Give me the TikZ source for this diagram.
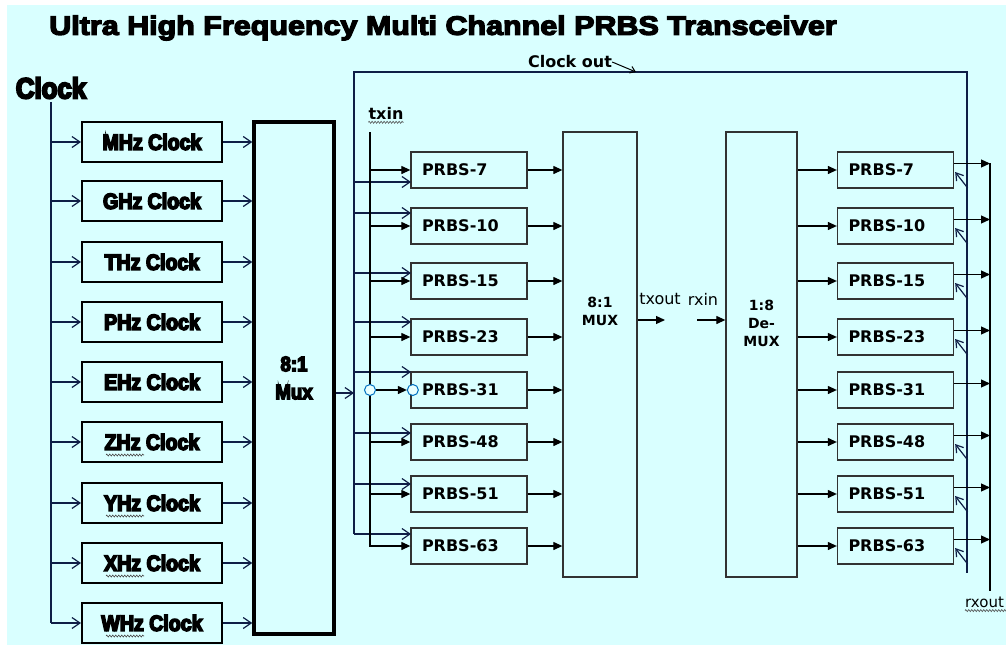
\documentclass[tikz,border=0pt]{standalone}
\usepackage{fontspec}
\setmainfont{DejaVu Sans}
\newfontfamily\heavyfont{Liberation Sans}[UprightFont={* Bold}, UprightFeatures={FakeBold=7}, FakeStretch=0.89]
\newfontfamily\titlefont{Liberation Sans}[UprightFont={* Bold}, UprightFeatures={FakeBold=5}, FakeStretch=1.15]
\usepackage{xcolor}
\usepackage{tikz}
\usetikzlibrary{arrows.meta,positioning,calc,decorations.pathmorphing}
\definecolor{bgcyan}{RGB}{217,255,255}
\definecolor{netblue}{RGB}{15,30,70}
\definecolor{boxgray}{RGB}{50,50,50}
\definecolor{bubbleblue}{RGB}{0,112,192}

\begin{document}
\begin{tikzpicture}[
  x=1pt, y=-1pt,
  clkbox/.style={draw, line width=2pt, minimum width=140pt, minimum height=40pt, inner sep=0pt, font=\heavyfont\fontsize{22}{24}\selectfont},
  prbs/.style={draw=boxgray, line width=1.3pt, minimum height=36pt, text width=94pt, inner xsep=11pt, align=left, font=\bfseries\fontsize{16}{18}\selectfont},
  bigbox/.style={draw=boxgray, line width=1.3pt, minimum height=445pt},
  boxlbl/.style={align=center, inner sep=0pt, font=\bfseries\fontsize{14}{18}\selectfont},
  open/.style={-{Straight Barb[length=8pt,width=11pt]}, line width=1.2pt, draw=netblue},
  sig/.style={-{Triangle[length=9pt,width=8pt]}, line width=1.2pt},
  bubble/.style={circle, draw=bubbleblue, fill=bgcyan!60!white, line width=1pt, minimum size=11pt, inner sep=0pt},
  squig/.style={decorate, decoration={zigzag, amplitude=1pt, segment length=3pt}, line width=0.6pt, draw=black!70}
]
\useasboundingbox (0,0) rectangle (1006,645);
\fill[bgcyan] (7,5) rectangle (1006,645);

\node[font=\titlefont\fontsize{26.5}{28}\selectfont, inner sep=0pt] (title) at (443,28) {Ultra High Frequency Multi Channel PRBS Transceiver};

% clock sources and 8:1 mux
\node[font=\heavyfont\fontsize{29}{30}\selectfont, inner sep=0pt] (clk) at (51,88) {Clock};
\node[draw, line width=3.5pt, minimum width=80pt, minimum height=512pt, align=center, font=\heavyfont\fontsize{21}{28}\selectfont] (mux) at (294,378) {8:1\\Mux};
\draw[line width=1.2pt, netblue] ([yshift=-3pt]clk.south) -- (clk.south |- 0,623);
\foreach \n/\y/\t in {1/142/MHz, 2/201/GHz, 3/262/THz, 4/322/PHz, 5/382/EHz, 6/442/ZHz, 7/503/YHz, 8/563/XHz, 9/623/WHz} {
  \node[clkbox] (c\n) at (152,\y) {\t{} Clock};
  \draw[open] (clk.south |- c\n.west) -- (c\n.west);
  \draw[open] (c\n.east) -- (c\n.east -| mux.west);
}
\foreach \n in {6,...,9}
  \draw[squig] ($(c\n.west)+(25,13)$) -- ++(38,0);

% PRBS generators / checkers
\foreach \n/\y/\k/\c in {1/170/7/182, 2/226/10/213, 3/281/15/273, 4/337/23/322, 5/390/31/372, 6/442/48/433, 7/494/51/484, 8/546/63/534} {
  \node[prbs] (l\n) at (469,\y) {PRBS-\k};
  \node[prbs] (r\n) at (895.5,\y) {PRBS-\k};
  \coordinate (lc\n) at (411,\c);
}

% clock out loop
\coordinate (ctop) at (354,72);
\coordinate (cright) at (967,72);
\coordinate (cend) at (967,573);
\coordinate (mo) at (354,393);
\draw[line width=1.2pt, netblue] (ctop |- lc8) -- (ctop) -- (cright) -- (cend);
\draw[open] (mux.east |- mo) -- (mo);
\foreach \n in {1,...,8}
  \draw[open] (ctop |- lc\n) -- (lc\n);
\node[font=\bfseries\fontsize{16}{18}\selectfont, inner sep=0pt] (cout) at (570,62) {Clock out};
\coordinate (coutpt) at (636,72);
\draw[-{Straight Barb[length=5pt,width=7pt]}, line width=1pt] (cout.east) -- (coutpt);

% txin
\node[font=\bfseries\fontsize{16}{18}\selectfont, inner sep=1pt] (txin) at (386,113) {txin};
\draw[squig] ($(txin.south west)+(1,2)$) -- ($(txin.south east)+(-1,2)$);
\coordinate (ttop) at (370,132);
\draw[sig] (ttop) -- (ttop |- l8.west) -- (l8.west);
\foreach \n in {1,2,3,4,6,7}
  \draw[sig] (ttop |- l\n.west) -- (l\n.west);
\node[bubble] (b1) at (ttop |- l5.west) {};
\node[bubble] (b2) at ($(l5.west)+(2.5,0)$) {};
\draw[sig] (b1.east) -- (b2.west);

% tx mux
\node[bigbox, minimum width=74pt] (mux2) at (600,354.5) {};
\node[boxlbl] (muxlbl) at (600,311) {8:1\\MUX};
\foreach \n in {1,...,8}
  \draw[sig] (l\n.east) -- (l\n.east -| mux2.west);

% rx demux
\node[bigbox, minimum width=71pt] (demux) at (761.5,354.5) {};
\node[boxlbl] (demuxlbl) at (761.5,323) {1:8\\De-\\MUX};
\coordinate (txo) at (665,320);
\coordinate (rxi) at (697,320);
\draw[sig] (mux2.east |- txo) -- (txo);
\draw[sig] (rxi) -- (rxi -| demux.west);
\node[font=\fontsize{16}{18}\selectfont, inner sep=0pt] (txout) at (660,299) {txout};
\node[font=\fontsize{16}{18}\selectfont, inner sep=0pt] (rxin) at (703,299) {rxin};
\foreach \n in {1,...,8}
  \draw[sig] (r\n.west -| demux.east) -- (r\n.west);

% rx outputs
\coordinate (rxtop) at (990,163);
\coordinate (rxbot) at (990,591);
\draw[line width=1.2pt] (rxtop) -- (rxbot);
\foreach \n in {1,...,8} {
  \coordinate (ro\n) at ($(r\n.east)+(0,-6.5)$);
  \draw[sig] (ro\n) -- (ro\n -| rxtop);
}
\foreach \n in {1,2,3,4,6,7,8}
  \draw[open, -{Straight Barb[length=7pt,width=9pt]}] ($(r\n.east)+(13.5,18)$) -- ($(r\n.east)+(1,2)$);
\node[anchor=west, font=\fontsize{15}{16}\selectfont, inner sep=0pt] (rxout) at (965,602) {rxout};
\draw[squig] ($(rxout.south west)+(0,3)$) -- ++(45,0);
\end{tikzpicture}
\end{document}
